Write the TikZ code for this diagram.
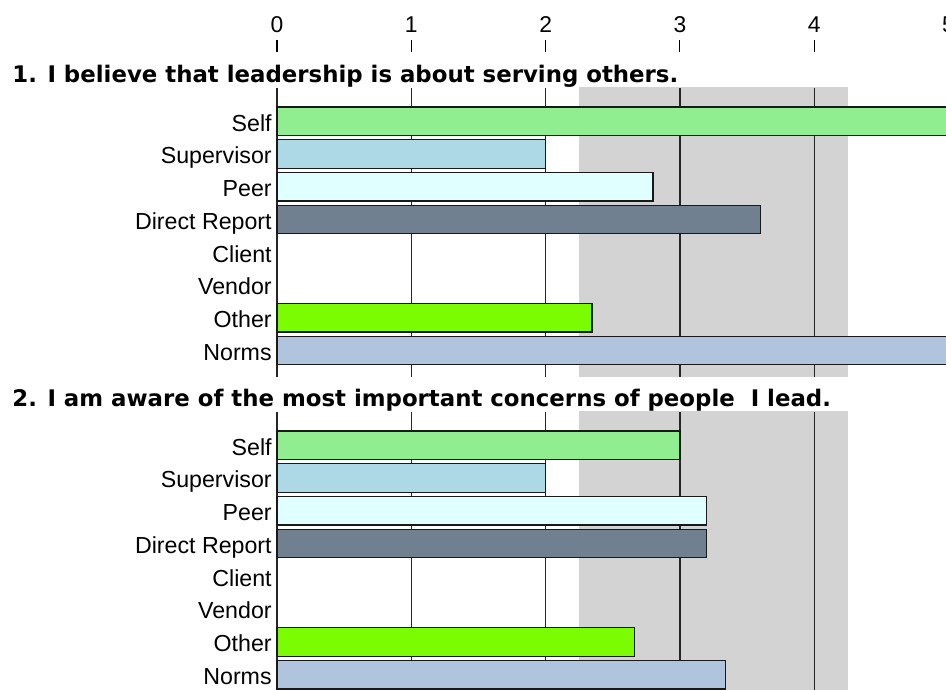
\documentclass[tikz,border=0pt]{standalone}
\usepackage{fontspec}
\setmainfont{Liberation Sans}
\newfontfamily\titlefont{DejaVu Sans}
\definecolor{selfgreen}{HTML}{90EE90}
\definecolor{supblue}{HTML}{ADD8E6}
\definecolor{peercyan}{HTML}{E0FFFF}
\definecolor{drslate}{HTML}{708090}
\definecolor{otherlime}{HTML}{7CFC00}
\definecolor{normsteel}{HTML}{B0C4DE}
\definecolor{bandgray}{HTML}{D3D3D3}
\tikzset{
	qtitle/.style={anchor=base west, inner sep=0pt, font=\titlefont\bfseries\fontsize{13pt}{15pt}\selectfont},
	rowlabel/.style={anchor=base east, inner sep=0pt, font=\fontsize{13.2pt}{15pt}\selectfont},
	ticklabel/.style={anchor=base, inner sep=0pt, font=\fontsize{13pt}{15pt}\selectfont},
	gband/.style={fill=bandgray},
	gridline/.style={line width=0.8pt, draw=black!85},
	valbar/.style={draw=black!90, line width=0.7pt},
}
\begin{document}
\begin{tikzpicture}[x=2.686cm, y=-0.02cm]
		\clip (-2.0625,0) rectangle (4.9814,689);
		\fill[white] (-2.0625,0) rectangle (4.9814,689);
		\foreach \v in {0,...,5} {
			\node[ticklabel] (tick\v) at (\v,32) {\v};
			\draw[line width=0.6pt] (\v,40) -- (\v,52);
		}
		\node[qtitle] (q1) at (-1.973,82) {1. I believe that leadership is about serving others.};
		\fill[gband] (2.25,87) rectangle (4.25,377);
		\foreach \v in {0,...,4} \draw[gridline] (\v,88) -- (\v,377);
		\foreach \val/\col [count=\i from 0] in {5.1/selfgreen, 2/supblue, 2.8/peercyan, 3.6/drslate, 0/white, 0/white, 2.345/otherlime, 5.1/normsteel} {
			\pgfmathsetmacro{\y}{107+32.75*\i}
			\ifdim \val pt>0pt \filldraw[valbar, fill=\col] (0,\y) rectangle (\val,\y+28.5); \fi
		}
		\foreach \lab [count=\i from 0] in {Self, Supervisor, Peer, Direct Report, Client, Vendor, Other, Norms} {
			\pgfmathsetmacro{\y}{107+32.75*\i+24}
			\node[rowlabel] (a\i) at (-0.037,\y) {\lab};
		}
		\node[qtitle] (q2) at (-1.973,406) {2. I am aware of the most important concerns of people \ I lead.};
		\fill[gband] (2.25,411) rectangle (4.25,700);
		\foreach \v in {0,...,4} \draw[gridline] (\v,412) -- (\v,700);
		\foreach \val/\col [count=\i from 0] in {3/selfgreen, 2/supblue, 3.2/peercyan, 3.2/drslate, 0/white, 0/white, 2.66/otherlime, 3.34/normsteel} {
			\pgfmathsetmacro{\y}{431+32.75*\i}
			\ifdim \val pt>0pt \filldraw[valbar, fill=\col] (0,\y) rectangle (\val,\y+28.5); \fi
		}
		\foreach \lab [count=\i from 0] in {Self, Supervisor, Peer, Direct Report, Client, Vendor, Other, Norms} {
			\pgfmathsetmacro{\y}{431+32.75*\i+24}
			\node[rowlabel] (b\i) at (-0.037,\y) {\lab};
		}
	\end{tikzpicture}
\end{document}
